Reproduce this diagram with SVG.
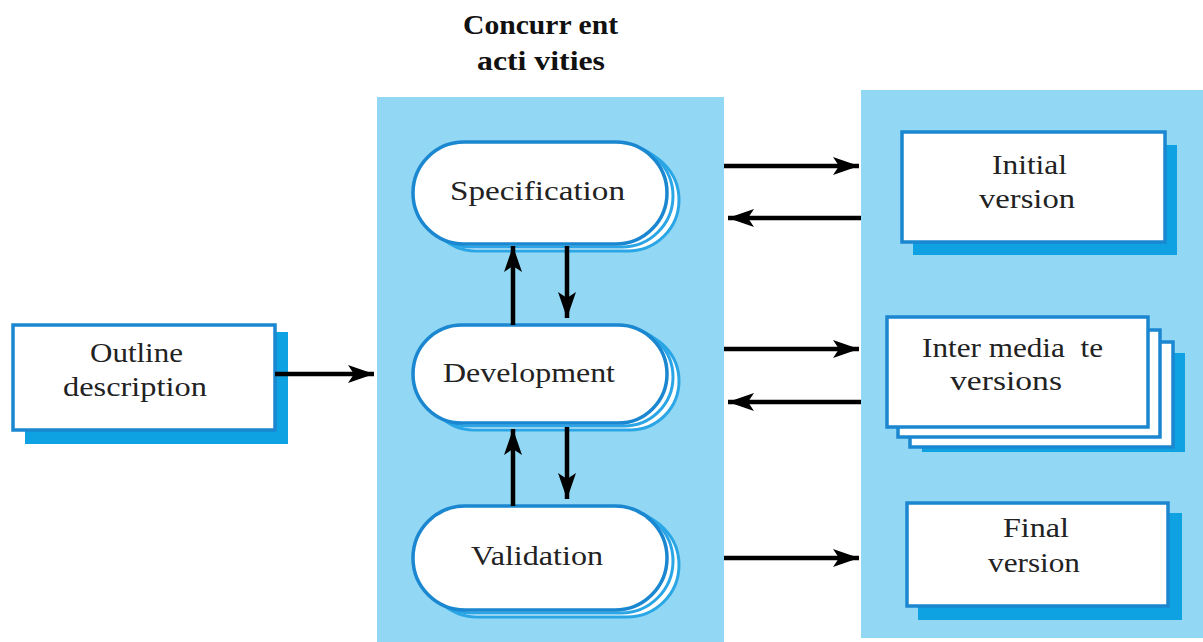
<svg xmlns="http://www.w3.org/2000/svg" width="1203" height="642" viewBox="0 0 1203 642">
<style>
.panel{fill:#92d7f3}
.box{fill:#ffffff;stroke:#1b87d0;stroke-width:3.5}
.shadow{fill:#0ea2e3}
.pill{fill:#ffffff;stroke:#1b87d0;stroke-width:3.5}
.pillb{fill:#ffffff;stroke:#2aa6e6;stroke-width:3}
.lbl{font-family:'Liberation Serif','Times New Roman',Times,serif;font-size:27px;fill:#222222}
.title{font-family:'Liberation Serif','Times New Roman',Times,serif;font-size:28px;font-weight:bold;fill:#111111}
.arr{stroke:#000000;stroke-width:4.5;fill:none;marker-end:url(#ah)}
</style>
<defs>
<marker id="ah" markerUnits="userSpaceOnUse" markerWidth="28" markerHeight="22" refX="26" refY="11" orient="auto">
<path d="M0,2 L26,11 L0,20 L6,11 z" fill="#000000"/>
</marker>
</defs>
<rect width="1203" height="642" fill="#ffffff"/>
<g id="title">
<text class="title" x="463" y="34" textLength="155" lengthAdjust="spacingAndGlyphs">Concurr ent</text>
<text class="title" x="477" y="70" textLength="128" lengthAdjust="spacingAndGlyphs">acti vities</text>
</g>
<g id="panels">
<rect class="panel" x="377" y="97" width="347" height="545"/>
<rect class="panel" x="861" y="90" width="342" height="548"/>
</g>
<g id="outline">
<rect class="shadow" x="25" y="332" width="263" height="112"/>
<rect class="box" x="13" y="325" width="262" height="105"/>
<text class="lbl" x="90" y="362" textLength="93" lengthAdjust="spacingAndGlyphs">Outline</text>
<text class="lbl" x="63" y="396" textLength="144" lengthAdjust="spacingAndGlyphs">description</text>
</g>
<g id="specification">
<rect class="pillb" x="425" y="149" width="254" height="102" rx="51"/>
<rect class="pillb" x="419" y="145" width="254" height="102" rx="51"/>
<rect class="pill" x="413" y="142" width="254" height="102" rx="51"/>
<text class="lbl" x="450" y="200" textLength="175" lengthAdjust="spacingAndGlyphs">Specification</text>
</g>
<g id="development">
<rect class="pillb" x="425" y="332" width="254" height="98" rx="49"/>
<rect class="pillb" x="419" y="328" width="254" height="98" rx="49"/>
<rect class="pill" x="413" y="325" width="254" height="98" rx="49"/>
<text class="lbl" x="443" y="382" textLength="172" lengthAdjust="spacingAndGlyphs">Development</text>
</g>
<g id="validation">
<rect class="pillb" x="425" y="513" width="254" height="104" rx="52"/>
<rect class="pillb" x="419" y="509" width="254" height="104" rx="52"/>
<rect class="pill" x="413" y="506" width="254" height="104" rx="52"/>
<text class="lbl" x="471" y="565" textLength="132" lengthAdjust="spacingAndGlyphs">Validation</text>
</g>
<g id="initial">
<rect class="shadow" x="913" y="145" width="264" height="110"/>
<rect class="box" x="902" y="132" width="263" height="110"/>
<text class="lbl" x="992" y="174" textLength="75" lengthAdjust="spacingAndGlyphs">Initial</text>
<text class="lbl" x="979" y="208" textLength="96" lengthAdjust="spacingAndGlyphs">version</text>
</g>
<g id="intermediate">
<rect class="shadow" x="922" y="353" width="263" height="99"/>
<rect class="box" x="910" y="342" width="263" height="105"/>
<rect class="box" x="898" y="330" width="262" height="107"/>
<rect class="box" x="887" y="317" width="261" height="110"/>
<text class="lbl" x="922" y="357" textLength="181" lengthAdjust="spacingAndGlyphs" xml:space="preserve">Inter media  te</text>
<text class="lbl" x="950" y="390" textLength="112" lengthAdjust="spacingAndGlyphs">versions</text>
</g>
<g id="final">
<rect class="shadow" x="918" y="513" width="264" height="107"/>
<rect class="box" x="907" y="503" width="261" height="103"/>
<text class="lbl" x="1003" y="537" textLength="66" lengthAdjust="spacingAndGlyphs">Final</text>
<text class="lbl" x="988" y="572" textLength="92" lengthAdjust="spacingAndGlyphs">version</text>
</g>
<g id="connectors">
<line class="arr" x1="275" y1="374" x2="374" y2="374"/>
<line class="arr" x1="513" y1="325" x2="513" y2="246"/>
<line class="arr" x1="567" y1="246" x2="567" y2="318"/>
<line class="arr" x1="513" y1="506" x2="513" y2="429"/>
<line class="arr" x1="567" y1="427" x2="567" y2="499"/>
<line class="arr" x1="724" y1="166" x2="859" y2="166"/>
<line class="arr" x1="861" y1="218" x2="728" y2="218"/>
<line class="arr" x1="724" y1="349" x2="859" y2="349"/>
<line class="arr" x1="861" y1="402" x2="728" y2="402"/>
<line class="arr" x1="724" y1="558" x2="859" y2="558"/>
</g>
</svg>
